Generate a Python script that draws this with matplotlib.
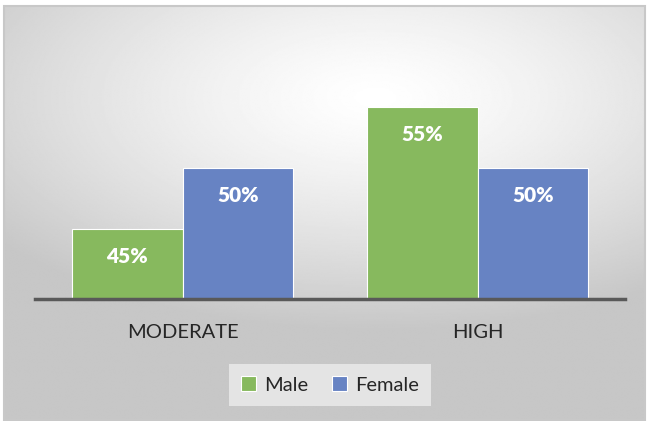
# Male vs Female share by level (clustered columns, Excel-style look)
import numpy as np
import matplotlib.pyplot as plt
from matplotlib.patches import Rectangle

categories = ['MODERATE', 'HIGH']
male = [45, 55]
female = [50, 50]
series_names = ['Male', 'Female']

green = '#87b95e'
blue = '#6783c3'

plt.rcParams['font.family'] = ['Lato', 'DejaVu Sans']

fig = plt.figure(figsize=(6.47, 4.21), dpi=100)

# radial gradient background inside the chart box
bg = fig.add_axes([4/647, 1 - 420/421, 641/647, 414/421])
bg.set_axis_off()
yy, xx = np.mgrid[0:1:300j, 0:1:460j]
r = np.sqrt(((xx - 0.58) / 1.0) ** 2 + ((yy - 0.22) / 0.75) ** 2)
shade = 1.0 - 0.22 * np.clip(r / 0.75, 0, 1) ** 1.3
bg.imshow(shade, cmap='gray', vmin=0, vmax=1, aspect='auto',
          extent=[0, 1, 1, 0], interpolation='bilinear')
bg.set_xlim(0, 1)
bg.set_ylim(1, 0)
bg.add_patch(Rectangle((0, 0), 1, 1, fill=False, edgecolor='#c8c8c8', lw=1.5,
                       transform=bg.transAxes, clip_on=False))

ax = fig.add_axes([35/647, 1 - 299/421, 590/647, 284/421])
ax.patch.set_alpha(0)
x = np.arange(len(categories))
w = 0.375
b1 = ax.bar(x - w/2, male, w, color=green, edgecolor='white', linewidth=0.8, label=series_names[0])
b2 = ax.bar(x + w/2, female, w, color=blue, edgecolor='white', linewidth=0.8, label=series_names[1])

base = 39.26
ax.set_ylim(base, base + 284/12.2)
ax.set_xlim(-0.5, 1.5)

for bars in (b1, b2):
    for bar in bars:
        h = bar.get_height()
        ax.annotate(f'{h:.0f}%', (bar.get_x() + bar.get_width()/2, h),
                    xytext=(0, -28), textcoords='offset pixels',
                    ha='center', va='center', color='white', fontsize=15, fontweight='heavy')

for s in ['top', 'right', 'left']:
    ax.spines[s].set_visible(False)
ax.spines['bottom'].set_color('#595959')
ax.spines['bottom'].set_linewidth(2.5)
ax.set_yticks([])
ax.set_xticks(x)
ax.set_xticklabels(categories, fontsize=14.5, color='#262626')
ax.tick_params(axis='x', length=0, pad=18)

leg = ax.legend(loc='center', bbox_to_anchor=(330/647, 1 - 385/421),
                bbox_transform=fig.transFigure, ncol=2, frameon=True,
                fontsize=14.5, handlelength=0.75, handleheight=0.75,
                handletextpad=0.4, columnspacing=1.2, borderpad=0.6,
                fancybox=False)
leg.get_frame().set_facecolor('#e4e4e4')
leg.get_frame().set_edgecolor('none')
leg.get_frame().set_alpha(1)
for t in leg.get_texts():
    t.set_color('#262626')

fig.savefig('out.png', dpi=100)
